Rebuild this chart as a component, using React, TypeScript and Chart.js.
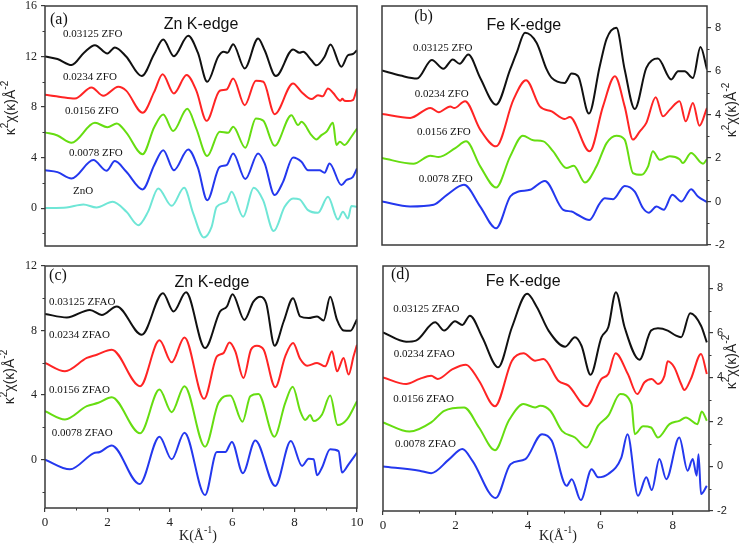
import React, { useEffect, useRef } from 'react';
import { Chart, registerables } from 'chart.js';
Chart.register(...registerables);

type Pt = [number, number];

// ---------- Panel (a): Zn K-edge, ZFO ----------
const aZFO03125: Pt[] = [[0,12],[0.4,11.8],[0.85,11.32],[1.25,12.3],[1.6,12.9],[2.0,12.24],[2.24,12.72],[2.6,12.0],[3.1,10.45],[3.5,12.2],[3.79,13.35],[4.13,12.03],[4.59,13.64],[4.9,12.3],[5.2,10.0],[5.55,11.98],[5.73,12.37],[5.85,12.3],[6.03,12.98],[6.4,11.06],[6.83,13.43],[7.04,12.5],[7.4,10.45],[7.95,12.56],[8.16,12.3],[8.27,12.37],[8.54,11.7],[8.7,11.3],[8.96,11.98],[9.15,12.96],[9.5,11.19],[9.71,12.1],[9.87,12.2],[10,12.5]];
const aZFO0234: Pt[] = [[0,8.97],[0.5,8.8],[0.96,8.68],[1.49,9.55],[1.87,8.89],[2.35,9.6],[2.6,9.3],[3.13,7.55],[3.5,9.2],[3.77,10.6],[4.13,9.08],[4.54,10.53],[4.85,9.3],[5.18,6.91],[5.6,9.29],[5.82,9.39],[6.03,10.26],[6.4,8.15],[6.76,10.08],[7.0,10.0],[7.36,7.44],[7.95,9.87],[8.22,9.2],[8.54,8.63],[8.75,8.94],[8.9,8.85],[9.07,9.47],[9.23,9.13],[9.47,8.5],[9.53,8.65],[9.6,8.5],[9.71,8.47],[9.87,8.55],[10,9.47]];
const aZFO0156: Pt[] = [[0,5.99],[0.4,5.75],[0.85,5.17],[1.6,6.75],[2.0,6.41],[2.3,6.7],[2.6,6.0],[3.13,4.27],[3.5,6.4],[3.79,7.41],[4.11,6.1],[4.56,7.86],[4.85,6.3],[5.2,4.12],[5.6,6.04],[5.87,5.96],[6.03,6.44],[6.42,4.78],[6.76,7.1],[7.0,6.91],[7.36,4.93],[7.9,7.36],[8.11,6.57],[8.22,6.83],[8.54,5.78],[8.7,5.44],[8.86,5.78],[9.02,6.04],[9.23,6.75],[9.34,4.99],[9.45,5.25],[9.6,4.99],[9.82,5.65],[10,6.3]];
const aZFO0078: Pt[] = [[0,3.0],[0.4,2.85],[0.85,2.35],[1.55,3.8],[1.97,2.96],[2.24,3.72],[2.6,2.9],[3.13,1.48],[3.5,3.4],[3.79,4.59],[4.13,3.0],[4.59,4.64],[4.9,3.2],[5.2,0.63],[5.6,3.27],[5.82,3.4],[6.03,4.33],[6.42,2.3],[6.83,4.33],[7.04,3.54],[7.36,1.03],[7.63,2.08],[7.95,4.01],[8.22,3.67],[8.43,3.0],[8.8,3.0],[8.96,2.8],[9.12,3.54],[9.5,1.82],[9.66,2.22],[9.87,2.48],[10,3.14]];
const aZnO: Pt[] = [[0,0],[0.69,0.05],[1.23,0.29],[1.65,0.05],[2.17,0.5],[2.61,-0.29],[2.99,-1.35],[3.3,-0.3],[3.63,1.56],[4.06,0.18],[4.46,1.61],[4.75,-0.42],[5.09,-2.32],[5.34,-1.48],[5.5,0.1],[5.82,0.5],[5.98,1.29],[6.35,-0.69],[6.69,1.61],[6.99,0.63],[7.33,-1.82],[7.68,0.1],[7.95,0.77],[8.16,0.69],[8.43,-0.16],[8.75,-0.37],[9.07,0.9],[9.39,-0.9],[9.55,-0.29],[9.71,-0.82],[9.82,0.16],[10,0.1]];

// ---------- Panel (b): Fe K-edge, ZFO ----------
const bZFO03125: Pt[] = [[0,6.03],[0.51,5.8],[0.97,5.66],[1.38,6.51],[1.7,6.11],[1.96,6.54],[2.15,6.34],[2.39,6.77],[2.72,5.69],[3.16,4.46],[3.55,6.08],[3.73,6.85],[3.96,7.77],[4.28,7.31],[4.56,6.08],[4.7,5.69],[5.06,5.46],[5.25,5.89],[5.43,5.77],[5.73,4.05],[6.03,6.23],[6.22,7.49],[6.49,8.0],[6.72,6.08],[7.0,4.26],[7.32,6.15],[7.64,6.58],[8.01,5.62],[8.2,6.0],[8.38,6.0],[8.61,5.69],[8.82,7.11],[9.0,6.08]];
const bZFO0234: Pt[] = [[0,4.03],[0.78,3.85],[1.34,4.31],[1.57,4.11],[1.89,4.38],[2.0,4.3],[2.3,4.62],[2.72,3.31],[3.16,2.54],[3.64,4.69],[3.99,5.58],[4.37,4.38],[4.7,4.15],[5.06,3.8],[5.2,3.89],[5.75,2.31],[6.12,4.38],[6.45,5.77],[6.72,4.38],[6.95,2.85],[7.14,3.23],[7.32,3.62],[7.58,4.8],[7.78,3.92],[7.97,4.23],[8.24,4.62],[8.41,3.69],[8.61,4.54],[8.79,3.49],[9.0,4.31]];
const bZFO0156: Pt[] = [[0,2.0],[0.87,1.74],[1.34,2.11],[1.57,2.05],[2.03,2.46],[2.33,2.77],[2.72,1.62],[3.16,0.65],[3.55,2.08],[3.9,3.03],[4.19,2.82],[4.47,2.77],[4.74,2.31],[5.11,1.54],[5.31,1.65],[5.62,0.88],[5.94,1.62],[6.22,2.69],[6.49,3.03],[6.72,2.85],[6.95,1.31],[7.18,1.23],[7.37,1.62],[7.5,2.31],[7.69,1.92],[7.97,2.08],[8.24,1.95],[8.33,1.77],[8.56,2.23],[8.89,1.74],[9.0,1.95]];
const bZFO0078: Pt[] = [[0,0],[0.78,-0.23],[1.43,-0.15],[1.8,0.31],[2.27,0.77],[2.72,-0.23],[3.16,-1.23],[3.55,0.23],[3.78,0.46],[4.1,0.54],[4.51,0.95],[5.02,-0.38],[5.25,-0.46],[5.43,-0.62],[5.74,-0.85],[6.03,-0.08],[6.17,0.15],[6.4,0.11],[6.72,0.72],[7.0,0.46],[7.23,-0.31],[7.39,-0.51],[7.6,-0.23],[7.8,-0.38],[8.04,0.31],[8.29,0.0],[8.56,0.57],[8.75,0.23],[9.0,-0.03]];

// ---------- Panel (c): Zn K-edge, ZFAO ----------
const cZFAO03125: Pt[] = [[0,9.03],[0.7,8.81],[1.44,9.28],[1.82,8.97],[2.3,9.49],[3.1,7.74],[3.78,10.31],[4.12,9.18],[4.52,10.37],[5.13,6.91],[5.61,9.18],[5.83,9.49],[6.01,10.25],[6.39,8.66],[6.68,9.79],[6.9,10.1],[7.09,9.69],[7.36,7.06],[7.65,8.56],[7.95,10.0],[8.18,8.87],[8.45,8.77],[8.72,8.87],[8.93,8.62],[9.14,10.1],[9.36,8.66],[9.57,8.0],[9.79,7.98],[10,8.7]];
const cZFAO0234: Pt[] = [[0,5.99],[0.64,5.47],[1.34,6.3],[1.66,6.5],[2.14,6.81],[3.05,4.55],[3.67,7.39],[4.06,6.03],[4.47,7.57],[5.1,3.77],[5.51,6.4],[5.72,6.6],[5.91,7.26],[6.1,6.71],[6.36,5.06],[6.6,6.81],[6.79,7.06],[7.01,6.81],[7.38,4.49],[7.7,6.4],[7.95,7.22],[8.18,6.23],[8.4,5.82],[8.72,5.99],[8.98,5.78],[9.2,6.71],[9.36,5.47],[9.57,6.3],[9.73,5.27],[9.89,6.4],[10,7.12]];
const cZFAO0156: Pt[] = [[0,3.0],[0.64,2.49],[1.34,3.31],[1.71,3.52],[2.14,3.87],[3.05,1.63],[3.67,4.34],[4.06,2.94],[4.47,4.55],[5.13,0.8],[5.56,3.52],[5.94,3.97],[6.33,2.35],[6.58,3.93],[6.84,4.07],[7.35,1.42],[7.7,3.52],[7.94,4.51],[8.18,3.0],[8.34,2.45],[8.5,2.76],[8.61,2.39],[8.88,2.8],[9.14,3.97],[9.38,2.14],[9.68,2.49],[10,3.62]];
const cZFAO0078: Pt[] = [[0,0],[0.8,-0.6],[1.55,0.39],[1.76,0.47],[2.14,0.88],[3.03,-1.52],[3.67,1.42],[4.06,0.02],[4.47,1.67],[5.13,-2.2],[5.51,0.47],[5.78,0.47],[5.99,1.09],[6.34,-0.84],[6.74,1.19],[7.38,-1.63],[7.88,1.15],[8.24,-0.39],[8.45,0.06],[8.61,0.02],[8.72,-0.97],[8.88,-0.49],[9.14,0.64],[9.41,0.53],[9.52,-0.8],[9.73,-0.29],[10,0.43]];

// ---------- Panel (d): Fe K-edge, ZFAO ----------
const dZFAO03125: Pt[] = [[0,6.02],[0.64,5.6],[0.91,5.65],[1.44,6.47],[1.69,6.1],[1.99,6.52],[2.19,6.35],[2.4,6.77],[2.74,5.8],[3.18,4.45],[3.56,6.25],[3.98,7.75],[4.25,7.15],[4.57,6.1],[5.03,5.38],[5.3,5.8],[5.48,5.42],[5.73,4.12],[6.03,5.8],[6.22,6.25],[6.43,7.82],[6.67,6.25],[7.08,4.79],[7.4,6.1],[7.59,6.2],[7.86,6.1],[8.09,5.87],[8.23,5.8],[8.48,6.88],[8.78,6.32],[8.94,5.57]];
const dZFAO0234: Pt[] = [[0,4.0],[0.64,3.7],[1.01,3.93],[1.33,4.07],[1.51,3.93],[1.92,4.37],[2.29,4.57],[2.65,3.85],[3.09,2.7],[3.56,4.75],[3.88,5.08],[4.2,4.75],[4.43,4.82],[4.84,3.85],[5.12,3.63],[5.62,2.7],[6.03,3.93],[6.22,4.15],[6.42,5.08],[6.76,4.15],[7.02,3.25],[7.22,3.78],[7.42,3.93],[7.59,3.7],[7.77,4.07],[7.86,4.72],[8.04,4.45],[8.23,3.7],[8.32,3.43],[8.5,3.93],[8.78,5.05],[8.94,4.15]];
const dZFAO0156: Pt[] = [[0,1.98],[0.73,1.57],[1.33,1.98],[1.69,2.5],[2.24,2.65],[2.65,1.75],[3.09,0.73],[3.47,2.05],[3.88,2.8],[4.2,2.65],[4.34,2.73],[4.62,2.5],[4.94,1.6],[5.3,1.3],[5.62,0.85],[5.94,1.83],[6.22,2.28],[6.55,3.25],[6.86,2.8],[6.95,1.45],[7.18,1.8],[7.4,1.75],[7.59,1.3],[7.91,1.9],[8.18,2.05],[8.36,2.2],[8.68,1.9],[8.8,2.47],[8.94,2.05]];
const dZFAO0078: Pt[] = [[0,0],[1.01,-0.19],[1.33,-0.3],[1.83,0.33],[2.19,0.78],[2.47,0.25],[3.11,-1.42],[3.52,0.1],[3.93,0.33],[4.39,1.45],[4.66,1.15],[5.07,-0.87],[5.21,-0.57],[5.46,-1.51],[5.76,-0.12],[5.94,-0.49],[6.22,-0.34],[6.58,0.4],[6.75,1.45],[7.04,-1.32],[7.27,-0.49],[7.42,-1.06],[7.63,0.33],[7.82,-0.57],[8.18,1.3],[8.41,-0.19],[8.55,0.33],[8.66,-0.42],[8.71,0.55],[8.78,-1.24],[8.94,-0.87]];

// ---------- Tick values ----------
const znYTicksA = [0, 4, 8, 12, 16];
const znYMinorA = [-2, 2, 6, 10, 14];
const znYTicksC = [0, 4, 8, 12];
const znYMinorC = [-2, 2, 6, 10];
const znXTicks = [0, 2, 4, 6, 8, 10];
const znXMinor = [1, 3, 5, 7, 9];
const feYTicks = [-2, 0, 2, 4, 6, 8];
const feYMinor = [-1, 1, 3, 5, 7];
const feXTicks = [0, 2, 4, 6, 8];
const feXMinor = [1, 3, 5, 7];

// ---------- Labels ----------
const zfoLabels = ['0.03125 ZFO', '0.0234 ZFO', '0.0156 ZFO', '0.0078 ZFO', 'ZnO'];
const zfaoLabels = ['0.03125 ZFAO', '0.0234 ZFAO', '0.0156 ZFAO', '0.0078 ZFAO'];

const BLACK = '#111111';
const RED = '#ff2424';
const GREEN = '#66dd11';
const BLUE = '#2438ee';
const CYAN = '#6fe6d6';

const SERIF = "'Liberation Serif', 'Times New Roman', serif";
const SANS = "'Liberation Sans', Arial, sans-serif";
const AXIS = '#3a3a3a';

type Seg = { t: string; sup?: boolean };
const yTitleSegs: Seg[] = [{ t: 'κ' }, { t: '2', sup: true }, { t: 'χ(κ)Å' }, { t: '-2', sup: true }];
const xTitleSegs: Seg[] = [{ t: 'K(Å' }, { t: '-1', sup: true }, { t: ')' }];

interface LabelPos { text: string; k: number; v: number }
interface PanelCfg {
  box: { left: number; top: number; width: number; height: number };
  padding: { left: number; right: number; top: number; bottom: number };
  xMin: number; xMax: number; yMin: number; yMax: number;
  xTicks: number[] | null; xMinor: number[];
  yTicks: number[]; yMinor: number[];
  yPos: 'left' | 'right';
  yAxisWidth: number; xAxisHeight: number;
  yFont: { family: string; size: number };
  series: { data: Pt[]; color: string }[];
  labels: LabelPos[];
  letter: LabelPos; title: LabelPos;
  yTitle: [number, number]; xTitle?: [number, number];
}

function drawRich(ctx: CanvasRenderingContext2D, segs: Seg[], x: number, y: number, size: number, family: string, rot: number) {
  const supSize = Math.round(size * 0.7);
  let total = 0;
  const widths = segs.map(s => {
    ctx.font = `${s.sup ? supSize : size}px ${family}`;
    const w = ctx.measureText(s.t).width;
    total += w;
    return w;
  });
  ctx.save();
  ctx.translate(x, y);
  ctx.rotate(rot);
  ctx.textBaseline = 'middle';
  ctx.textAlign = 'left';
  let cx = -total / 2;
  segs.forEach((s, i) => {
    ctx.font = `${s.sup ? supSize : size}px ${family}`;
    ctx.fillText(s.t, cx, s.sup ? -size * 0.42 : 0);
    cx += widths[i];
  });
  ctx.restore();
}

function makeDecor(cfg: PanelCfg) {
  return {
    id: 'panelDecor',
    afterDraw(chart: any) {
      const ctx: CanvasRenderingContext2D = chart.ctx;
      const { left, top, right, bottom } = chart.chartArea;
      const xs = chart.scales.x;
      const ys = chart.scales.y;
      ctx.save();
      ctx.strokeStyle = AXIS;
      ctx.lineWidth = 1.5;
      ctx.strokeRect(left, top, right - left, bottom - top);
      ctx.lineWidth = 1;
      ctx.beginPath();
      cfg.yMinor.forEach(v => {
        const py = Math.round(ys.getPixelForValue(v)) + 0.5;
        if (cfg.yPos === 'left') { ctx.moveTo(left - 2.5, py); ctx.lineTo(left, py); }
        else { ctx.moveTo(right, py); ctx.lineTo(right + 2.5, py); }
      });
      if (cfg.xTicks) {
        cfg.xMinor.forEach(v => {
          const px = Math.round(xs.getPixelForValue(v)) + 0.5;
          ctx.moveTo(px, bottom); ctx.lineTo(px, bottom + 2.5);
        });
      }
      ctx.stroke();

      ctx.fillStyle = '#111';
      ctx.textBaseline = 'middle';
      ctx.textAlign = 'left';
      ctx.font = `11px ${SERIF}`;
      cfg.labels.forEach(l => {
        ctx.fillText(l.text, xs.getPixelForValue(l.k), ys.getPixelForValue(l.v));
      });
      ctx.font = `16px ${SERIF}`;
      ctx.fillText(cfg.letter.text, xs.getPixelForValue(cfg.letter.k), ys.getPixelForValue(cfg.letter.v));
      ctx.textAlign = 'center';
      ctx.fillStyle = '#111';
      ctx.font = `16px ${SANS}`;
      ctx.fillText(cfg.title.text, xs.getPixelForValue(cfg.title.k), ys.getPixelForValue(cfg.title.v));

      ctx.fillStyle = '#222';
      drawRich(ctx, yTitleSegs, cfg.yTitle[0] - cfg.box.left, cfg.yTitle[1] - cfg.box.top, 14, SANS, -Math.PI / 2);
      if (cfg.xTitle) {
        drawRich(ctx, xTitleSegs, cfg.xTitle[0] - cfg.box.left, cfg.xTitle[1] - cfg.box.top, 14, SERIF, 0);
      }
      ctx.restore();
    },
  };
}

const panelA: PanelCfg = {
  box: { left: 0, top: -10, width: 372, height: 270 },
  padding: { left: 0, right: 15, top: 16, bottom: 14 },
  xMin: 0, xMax: 10, yMin: -3, yMax: 16,
  xTicks: null, xMinor: [],
  yTicks: znYTicksA, yMinor: znYMinorA,
  yPos: 'left', yAxisWidth: 45, xAxisHeight: 0,
  yFont: { family: SERIF, size: 12 },
  series: [
    { data: aZFO03125, color: BLACK },
    { data: aZFO0234, color: RED },
    { data: aZFO0156, color: GREEN },
    { data: aZFO0078, color: BLUE },
    { data: aZnO, color: CYAN },
  ],
  labels: [
    { text: zfoLabels[0], k: 0.58, v: 13.78 },
    { text: zfoLabels[1], k: 0.58, v: 10.37 },
    { text: zfoLabels[2], k: 0.64, v: 7.68 },
    { text: zfoLabels[3], k: 0.77, v: 4.35 },
    { text: zfoLabels[4], k: 0.9, v: 1.35 },
  ],
  letter: { text: '(a)', k: 0.16, v: 14.9 },
  title: { text: 'Zn K-edge', k: 5.0, v: 14.5 },
  yTitle: [11, 108],
};

const panelB: PanelCfg = {
  box: { left: 372, top: -10, width: 375, height: 270 },
  padding: { left: 10, right: 10, top: 16, bottom: 15 },
  xMin: 0, xMax: 9, yMin: -2, yMax: 9,
  xTicks: null, xMinor: [],
  yTicks: feYTicks, yMinor: feYMinor,
  yPos: 'right', yAxisWidth: 30, xAxisHeight: 0,
  yFont: { family: SANS, size: 11 },
  series: [
    { data: bZFO03125, color: BLACK },
    { data: bZFO0234, color: RED },
    { data: bZFO0156, color: GREEN },
    { data: bZFO0078, color: BLUE },
  ],
  labels: [
    { text: zfoLabels[0], k: 0.86, v: 7.06 },
    { text: zfoLabels[1], k: 0.91, v: 4.95 },
    { text: zfoLabels[2], k: 0.97, v: 3.2 },
    { text: zfoLabels[3], k: 1.02, v: 1.04 },
  ],
  letter: { text: '(b)', k: 0.89, v: 8.49 },
  title: { text: 'Fe K-edge', k: 3.93, v: 8.12 },
  yTitle: [732, 110],
};

const panelC: PanelCfg = {
  box: { left: 0, top: 254, width: 372, height: 293 },
  padding: { left: 0, right: 15, top: 12, bottom: 14 },
  xMin: 0, xMax: 10, yMin: -3, yMax: 12,
  xTicks: znXTicks, xMinor: znXMinor,
  yTicks: znYTicksC, yMinor: znYMinorC,
  yPos: 'left', yAxisWidth: 45, xAxisHeight: 25,
  yFont: { family: SERIF, size: 12 },
  series: [
    { data: cZFAO03125, color: BLACK },
    { data: cZFAO0234, color: RED },
    { data: cZFAO0156, color: GREEN },
    { data: cZFAO0078, color: BLUE },
  ],
  labels: [
    { text: zfaoLabels[0], k: 0.13, v: 9.77 },
    { text: zfaoLabels[1], k: 0.13, v: 7.72 },
    { text: zfaoLabels[2], k: 0.13, v: 4.31 },
    { text: zfaoLabels[3], k: 0.22, v: 1.65 },
  ],
  letter: { text: '(c)', k: 0.13, v: 11.38 },
  title: { text: 'Zn K-edge', k: 5.35, v: 10.95 },
  yTitle: [10, 377],
  xTitle: [198, 536],
};

const panelD: PanelCfg = {
  box: { left: 372, top: 254, width: 375, height: 293 },
  padding: { left: 11, right: 8, top: 12, bottom: 11 },
  xMin: 0, xMax: 9, yMin: -2, yMax: 9,
  xTicks: feXTicks, xMinor: feXMinor,
  yTicks: feYTicks, yMinor: feYMinor,
  yPos: 'right', yAxisWidth: 30, xAxisHeight: 25,
  yFont: { family: SANS, size: 11 },
  series: [
    { data: dZFAO03125, color: BLACK },
    { data: dZFAO0234, color: RED },
    { data: dZFAO0156, color: GREEN },
    { data: dZFAO0078, color: BLUE },
  ],
  labels: [
    { text: zfaoLabels[0], k: 0.28, v: 7.07 },
    { text: zfaoLabels[1], k: 0.3, v: 5.05 },
    { text: zfaoLabels[2], k: 0.28, v: 3.03 },
    { text: zfaoLabels[3], k: 0.33, v: 1.01 },
  ],
  letter: { text: '(d)', k: 0.22, v: 8.6 },
  title: { text: 'Fe K-edge', k: 3.87, v: 8.28 },
  yTitle: [732, 362],
  xTitle: [558, 536],
};

function Panel({ cfg }: { cfg: PanelCfg }) {
  const ref = useRef<HTMLCanvasElement>(null);
  useEffect(() => {
    const gridOpts = { display: true, drawOnChartArea: false, drawTicks: true, tickLength: 4, color: AXIS, lineWidth: 1.2 };
    const chart = new Chart(ref.current as HTMLCanvasElement, {
      type: 'line',
      data: {
        datasets: cfg.series.map(s => ({
          data: s.data.map(([x, y]) => ({ x, y })),
          borderColor: s.color,
          borderWidth: 2,
          pointRadius: 0,
          fill: false,
          cubicInterpolationMode: 'monotone' as const,
        })),
      },
      options: {
        responsive: false,
        maintainAspectRatio: false,
        animation: false,
        events: [],
        layout: { padding: cfg.padding },
        plugins: { legend: { display: false }, tooltip: { enabled: false } },
        scales: {
          x: {
            type: 'linear',
            min: cfg.xMin, max: cfg.xMax,
            display: !!cfg.xTicks,
            afterBuildTicks: (s: any) => { if (cfg.xTicks) s.ticks = cfg.xTicks.map(v => ({ value: v })); },
            afterFit: (s: any) => { s.height = cfg.xAxisHeight; },
            grid: gridOpts,
            border: { display: false },
            ticks: { font: { family: SERIF, size: 13 }, color: '#222', padding: 3, maxRotation: 0, autoSkip: false, callback: (v: any) => String(v) },
          },
          y: {
            type: 'linear',
            position: cfg.yPos,
            min: cfg.yMin, max: cfg.yMax,
            afterBuildTicks: (s: any) => { s.ticks = cfg.yTicks.map(v => ({ value: v })); },
            afterFit: (s: any) => { s.width = cfg.yAxisWidth; },
            grid: gridOpts,
            border: { display: false },
            ticks: { font: cfg.yFont, color: '#222', padding: 4, autoSkip: false, callback: (v: any) => String(v) },
          },
        },
      },
      plugins: [makeDecor(cfg)],
    } as any);
    return () => chart.destroy();
  }, [cfg]);
  const b = cfg.box;
  return (
    <canvas
      ref={ref}
      width={b.width}
      height={b.height}
      style={{ position: 'absolute', left: b.left, top: b.top, width: b.width, height: b.height }}
    />
  );
}

export default function App() {
  return (
    <div style={{ position: 'absolute', left: 0, top: 0, width: 747, height: 547, background: '#fff', overflow: 'hidden' }}>
      <Panel cfg={panelA} />
      <Panel cfg={panelB} />
      <Panel cfg={panelC} />
      <Panel cfg={panelD} />
    </div>
  );
}
